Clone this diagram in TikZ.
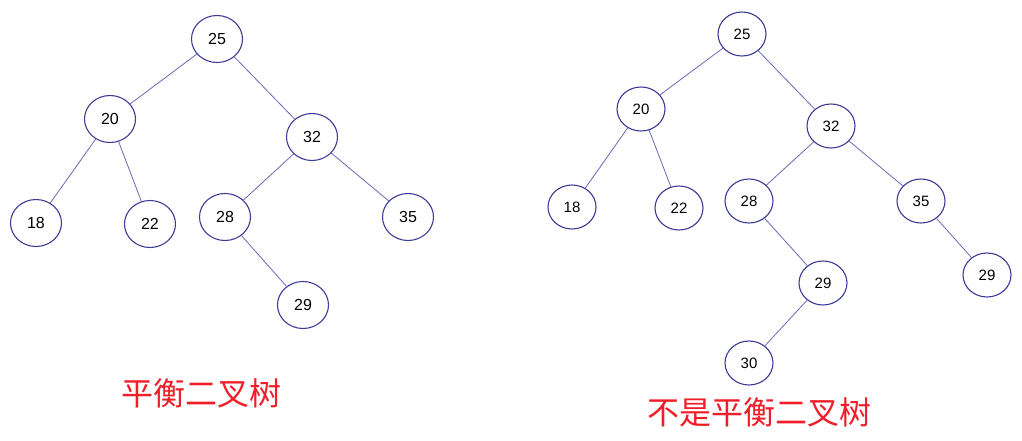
\documentclass[tikz,border=0pt]{standalone}
\usepackage{fontspec}
\setmainfont{Liberation Sans}
\newfontfamily\cjk{Noto Sans CJK SC}
\usepackage{xcolor}
\usepackage{tikz}
\usetikzlibrary{shapes.geometric}
\definecolor{NodeBlue}{RGB}{60,60,150}
\definecolor{EdgeBlue}{RGB}{105,105,185}
\definecolor{TitleRed}{RGB}{240,30,40}
\tikzset{
  % Nodi dell'albero
  node bst/.style={ellipse,draw=NodeBlue,line width=1.1pt,minimum width=51pt,minimum height=47pt,inner sep=0pt,font=\fontsize{16}{16}\selectfont},
  node bst small/.style={node bst,minimum width=48pt,minimum height=44pt,font=\fontsize{15}{15}\selectfont},
  % Connessioni
  connect/.style={EdgeBlue,line width=0.8pt},
  % Titoli
  title/.style={TitleRed,font=\cjk\fontsize{32}{32}\selectfont}
}

\begin{document}
\begin{tikzpicture}[x=1pt,y=-1pt]
    \useasboundingbox (0,0) rectangle (1022,441);
    % albero bilanciato
    \node[node bst] (a25) at (217,39) {25};
    \node[node bst] (a20) at (110,119) {20};
    \node[node bst] (a32) at (312,137) {32};
    \node[node bst] (a18) at (36,223) {18};
    \node[node bst] (a22) at (150,224) {22};
    \node[node bst] (a28) at (225,217) {28};
    \node[node bst] (a35) at (408,217) {35};
    \node[node bst] (a29) at (303,305) {29};
    \draw[connect] (a25)--(a20) (a25)--(a32);
    \draw[connect] (a20)--(a18) (a20)--(a22);
    \draw[connect] (a32)--(a28) (a32)--(a35);
    \draw[connect] (a28)--(a29);
    \node[title] (ta) at (201,393) {平衡二叉树};
    % albero non bilanciato
    \node[node bst small] (b25) at (742,34) {25};
    \node[node bst small] (b20) at (641,109) {20};
    \node[node bst small] (b32) at (831,126) {32};
    \node[node bst small] (b18) at (572,207) {18};
    \node[node bst small] (b22) at (679,208) {22};
    \node[node bst small] (b28) at (749,201) {28};
    \node[node bst small] (b35) at (921,201) {35};
    \node[node bst small] (b29) at (823,283) {29};
    \node[node bst small] (b29r) at (987,275) {29};
    \node[node bst small] (b30) at (749,363) {30};
    \draw[connect] (b25)--(b20) (b25)--(b32);
    \draw[connect] (b20)--(b18) (b20)--(b22);
    \draw[connect] (b32)--(b28) (b32)--(b35);
    \draw[connect] (b28)--(b29) (b29)--(b30);
    \draw[connect] (b35)--(b29r);
    \node[title] (tb) at (759,412) {不是平衡二叉树};
\end{tikzpicture}
\end{document}
